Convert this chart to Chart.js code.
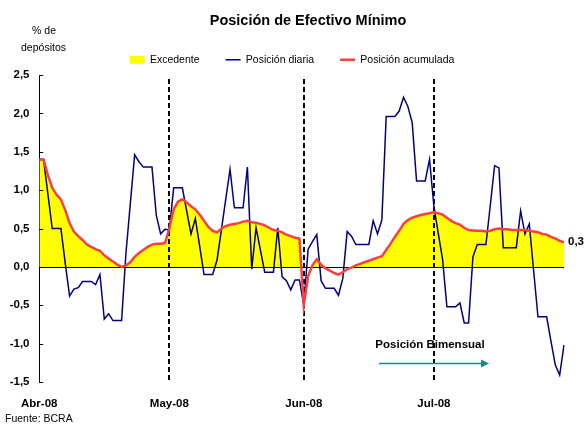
<!DOCTYPE html>
<html><head><meta charset="utf-8">
<script src="https://cdn.jsdelivr.net/npm/chart.js@4/dist/chart.umd.min.js"></script>
<style>html,body{margin:0;padding:0;background:#fff}</style>
</head><body>
<canvas id="c" width="587" height="426"></canvas>
<script>
// ---------- DATA ----------
const categories = [
 '01/04','02/04','03/04','04/04','05/04','06/04','07/04','08/04','09/04','10/04',
 '11/04','12/04','13/04','14/04','15/04','16/04','17/04','18/04','19/04','20/04',
 '21/04','22/04','23/04','24/04','25/04','26/04','27/04','28/04','29/04','30/04',
 '01/05','02/05','03/05','04/05','05/05','06/05','07/05','08/05','09/05','10/05',
 '11/05','12/05','13/05','14/05','15/05','16/05','17/05','18/05','19/05','20/05',
 '21/05','22/05','23/05','24/05','25/05','26/05','27/05','28/05','29/05','30/05','31/05',
 '01/06','02/06','03/06','04/06','05/06','06/06','07/06','08/06','09/06','10/06',
 '11/06','12/06','13/06','14/06','15/06','16/06','17/06','18/06','19/06','20/06',
 '21/06','22/06','23/06','24/06','25/06','26/06','27/06','28/06','29/06','30/06',
 '01/07','02/07','03/07','04/07','05/07','06/07','07/07','08/07','09/07','10/07',
 '11/07','12/07','13/07','14/07','15/07','16/07','17/07','18/07','19/07','20/07',
 '21/07','22/07','23/07','24/07','25/07','26/07','27/07','28/07','29/07','30/07','31/07'
];
const monthStartDays = ['01/04','01/05','01/06','01/07'];
const monthTicks = ['Abr-08','May-08','Jun-08','Jul-08'];
const yTickValues = [-1.5,-1,-0.5,0,0.5,1,1.5,2,2.5];

const posicionDiaria = [
 1.40,1.40,0.95,0.50,0.50,0.50,0.05,-0.38,-0.29,-0.27,
 -0.19,-0.19,-0.19,-0.23,-0.10,-0.68,-0.61,-0.70,-0.70,-0.70,
 0.18,0.82,1.46,1.37,1.30,1.30,1.30,0.67,0.43,0.49,
 0.48,1.03,1.03,1.03,0.73,0.43,0.63,0.27,-0.10,-0.10,
 -0.10,0.09,0.48,0.88,1.27,0.77,0.77,0.77,1.30,-0.03,
 0.51,0.22,-0.07,-0.07,-0.07,0.51,-0.13,-0.18,-0.30,-0.17,
 -0.17,-0.50,0.23,0.33,0.42,-0.18,-0.28,-0.28,-0.28,-0.37,
 -0.15,0.46,0.40,0.29,0.29,0.29,0.29,0.60,0.43,0.61,
 1.96,1.96,1.96,2.03,2.21,2.09,1.88,1.12,1.12,1.12,
 1.40,0.79,0.44,0.10,-0.52,-0.52,-0.52,-0.47,-0.73,-0.73,
 0.13,0.29,0.29,0.29,0.80,1.32,1.29,0.25,0.25,0.25,
 0.25,0.73,0.43,0.56,-0.05,-0.65,-0.65,-0.65,-0.97,-1.28,
 -1.41,-1.02
];
const posicionAcumulada = [
 1.40,1.40,1.20,1.03,0.94,0.88,0.74,0.57,0.46,0.40,
 0.35,0.29,0.26,0.23,0.21,0.15,0.11,0.07,0.03,0.00,
 0.02,0.06,0.13,0.18,0.22,0.26,0.29,0.30,0.30,0.31,
 0.50,0.75,0.85,0.88,0.84,0.79,0.75,0.68,0.60,0.52,
 0.47,0.45,0.50,0.53,0.55,0.56,0.57,0.59,0.60,0.58,
 0.575,0.56,0.54,0.51,0.48,0.47,0.45,0.42,0.40,0.38,
 0.37,-0.50,-0.12,0.02,0.10,0.03,-0.02,-0.05,-0.08,-0.10,
 -0.07,-0.03,-0.01,0.02,0.04,0.06,0.08,0.10,0.12,0.14,
 0.22,0.30,0.39,0.47,0.56,0.61,0.64,0.66,0.675,0.69,
 0.70,0.71,0.70,0.68,0.64,0.60,0.57,0.55,0.51,0.48,
 0.475,0.47,0.47,0.46,0.47,0.49,0.50,0.49,0.49,0.48,
 0.48,0.48,0.48,0.47,0.46,0.45,0.43,0.42,0.39,0.37,
 0.34,0.32
];

// ---------- TEXT ----------
const titleText = 'Posición de Efectivo Mínimo';
const unitLines = ['% de', 'depósitos'];
const seriesNames = ['Excedente', 'Posición diaria', 'Posición acumulada'];
const periodText = 'Posición Bimensual';
const sourceText = 'Fuente: BCRA';

const FONT = "'Liberation Sans', Arial, sans-serif";
const fmt = v => v.toFixed(1).replace('.', ',');

const extras = {
  id: 'extras',
  afterLayout(chart) {
    const l = chart.legend;
    l.left += 10; l.right += 10;
  },
  beforeDatasetsDraw(chart) {
    const {ctx, chartArea, scales: {x, y}} = chart;
    ctx.save();
    const y0 = Math.round(y.getPixelForValue(0)) + 0.5;
    ctx.strokeStyle = '#000'; ctx.lineWidth = 1;
    ctx.beginPath(); ctx.moveTo(chartArea.left, y0); ctx.lineTo(chartArea.right, y0); ctx.stroke();
    ctx.lineWidth = 2; ctx.setLineDash([5, 3]);
    monthStartDays.slice(1).forEach(d => {
      const px = Math.round(x.getPixelForValue(categories.indexOf(d)));
      ctx.beginPath(); ctx.moveTo(px, chartArea.top + 4); ctx.lineTo(px, chartArea.bottom + 1); ctx.stroke();
    });
    ctx.restore();
  },
  afterDraw(chart) {
    const {ctx, chartArea, scales: {x, y}} = chart;
    ctx.save();
    ctx.strokeStyle = '#000'; ctx.lineWidth = 1;
    yTickValues.forEach(v => {
      const py = Math.round(y.getPixelForValue(v)) + 0.5;
      ctx.beginPath(); ctx.moveTo(chartArea.left, py); ctx.lineTo(chartArea.left + 4, py); ctx.stroke();
    });
    ctx.fillStyle = '#000';
    ctx.textBaseline = 'middle';
    ctx.textAlign = 'center';
    ctx.font = 'bold 14.5px ' + FONT;
    ctx.fillText(titleText, 308, 21);
    ctx.font = '10.5px ' + FONT;
    ctx.fillText(unitLines[0], 44, 31);
    ctx.fillText(unitLines[1], 43.5, 48);
    const last = posicionAcumulada[posicionAcumulada.length - 1];
    ctx.textAlign = 'left';
    ctx.font = 'bold 11.5px ' + FONT;
    ctx.fillText(fmt(last), chartArea.right + 4, y.getPixelForValue(last));
    ctx.textAlign = 'center';
    ctx.fillText(periodText, 430, 345);
    ctx.strokeStyle = '#168a8a'; ctx.fillStyle = '#168a8a'; ctx.lineWidth = 1.5;
    ctx.beginPath(); ctx.moveTo(379, 363.5); ctx.lineTo(482, 363.5); ctx.stroke();
    ctx.beginPath(); ctx.moveTo(489, 363.5); ctx.lineTo(481, 359.5); ctx.lineTo(481, 367.5); ctx.closePath(); ctx.fill();
    ctx.fillStyle = '#000';
    ctx.textAlign = 'left';
    ctx.font = '10.5px ' + FONT;
    ctx.fillText(sourceText, 5, 419);
    ctx.restore();
  }
};

new Chart(document.getElementById('c'), {
  type: 'line',
  data: {
    labels: categories,
    datasets: [
      { label: seriesNames[0], data: posicionAcumulada, backgroundColor: '#ffff00',
        borderColor: 'rgba(0,0,0,0)', borderWidth: 0, pointRadius: 0, pointStyle: 'rect',
        fill: { target: 'origin', above: '#ffff00', below: 'rgba(0,0,0,0)' }, order: 3 },
      { label: seriesNames[1], data: posicionDiaria, borderColor: '#000080', backgroundColor: '#000080',
        borderWidth: 1.5, pointRadius: 0, pointStyle: 'line', fill: false, order: 2 },
      { label: seriesNames[2], data: posicionAcumulada, borderColor: '#f84040', backgroundColor: '#f84040',
        borderWidth: 2.5, pointRadius: 0, pointStyle: 'line', fill: false, order: 1 }
    ]
  },
  options: {
    responsive: false, animation: false, devicePixelRatio: 1,
    layout: { padding: { left: 0, right: 23, top: 28.5, bottom: 0.2 } },
    font: { family: FONT },
    plugins: {
      filler: { drawTime: 'beforeDatasetsDraw' },
      title: { display: false },
      tooltip: { enabled: false },
      legend: {
        position: 'top',
        labels: {
          usePointStyle: true, pointStyleWidth: 15, boxHeight: 8, padding: 26,
          color: '#000', font: { family: FONT, size: 10.5 },
          sort: (a, b) => a.datasetIndex - b.datasetIndex
        }
      }
    },
    scales: {
      x: {
        type: 'category',
        grid: { display: false, drawTicks: false },
        border: { display: false },
        ticks: {
          autoSkip: false, maxRotation: 0, minRotation: 0, padding: 15,
          color: '#000', font: { family: FONT, size: 11.5, weight: 'bold' },
          callback: (val, idx) => { const k = monthStartDays.indexOf(categories[idx]); return k >= 0 ? monthTicks[k] : ''; }
        }
      },
      y: {
        min: -1.5, max: 2.5,
        grid: { display: false, drawTicks: false },
        border: { display: true, color: '#000', width: 1 },
        ticks: {
          stepSize: 0.5, padding: 9.7, color: '#000',
          font: { family: FONT, size: 11.5, weight: 'bold' },
          callback: v => fmt(v)
        }
      }
    }
  },
  plugins: [extras]
});
</script>
</body></html>
